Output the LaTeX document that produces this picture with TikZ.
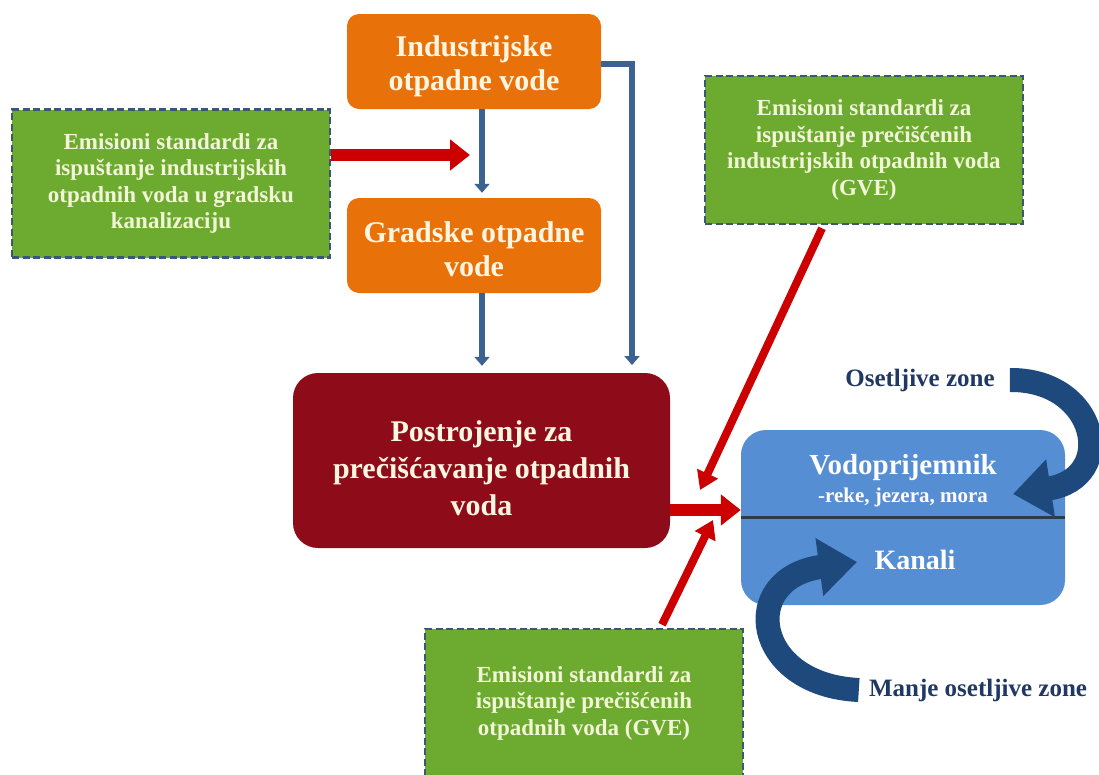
\documentclass[tikz,border=0pt]{standalone}
\usepackage{fontspec}
\setmainfont{Liberation Serif}
\usetikzlibrary{arrows.meta,calc}

\definecolor{boxorange}{RGB}{232,113,10}
\definecolor{boxgreen}{RGB}{108,170,48}
\definecolor{greenedge}{RGB}{58,88,118}
\definecolor{plantred}{RGB}{142,11,25}
\definecolor{waterblue}{RGB}{86,142,212}
\definecolor{flowred}{RGB}{204,0,0}
\definecolor{pipeblue}{RGB}{60,98,146}
\definecolor{zonenavy}{RGB}{30,73,125}
\definecolor{labelnavy}{RGB}{31,56,100}
\definecolor{cream}{RGB}{255,246,226}
\definecolor{paleyellow}{RGB}{242,246,214}
\definecolor{divider}{RGB}{45,60,75}

\tikzset{
  source/.style={fill=boxorange, rounded corners=12pt, minimum width=254pt,
    minimum height=95pt},
  sourcetext/.style={align=center, text=cream, inner sep=0pt,
    font=\bfseries\fontsize{30}{34}\selectfont},
  standard/.style={fill=boxgreen, draw=greenedge, line width=2.6pt,
    dash pattern=on 7pt off 3.5pt, minimum width=318pt, minimum height=148pt,
    align=center, text=paleyellow, font=\bfseries\fontsize{23}{26.5}\selectfont},
  plant/.style={fill=plantred, rounded corners=25pt, minimum width=377pt,
    minimum height=175pt},
  planttext/.style={align=center, text=cream, inner sep=0pt,
    font=\bfseries\fontsize{30}{37}\selectfont},
  receiver/.style={fill=waterblue, rounded corners=25pt, minimum width=324pt,
    minimum height=175pt},
  whitetext/.style={text=white, inner sep=0pt, align=center},
  zonelabel/.style={text=labelnavy, inner sep=0pt,
    font=\bfseries\fontsize{25}{28}\selectfont},
  pipe/.style={draw=pipeblue, line width=6pt,
    -{Triangle[width=15pt,length=9pt]}},
  bigflow/.style={draw=flowred, line width=12pt,
    -{Triangle[width=30pt,length=20pt]}},
  slimflow/.style={draw=flowred, line width=8pt,
    -{Triangle[width=22pt,length=18pt]}},
  zonearrow/.style={draw=zonenavy, line width=24pt,
    -{Triangle[width=56pt,length=38pt]}},
}

\begin{document}
\begin{tikzpicture}[x=1pt,y=-1pt]
\useasboundingbox (0,0) rectangle (1099,774);
\clip (0,0) rectangle (1099,774);

% wastewater sources
\node[source] (ind) at (474,61.5) {};
\node[sourcetext] (indtext) at (474,66) {Industrijske\\otpadne vode};
\node[source] (grad) at (474,245.5) {};
\node[sourcetext] (gradtext) at (474,249) {Gradske otpadne\\vode};

% treatment plant
\node[plant] (post) at (481.5,460.5) {};
\node[planttext] (posttext) at (481.5,468) {Postrojenje za\\prečišćavanje otpadnih\\voda};

% emission standards
\node[standard] (stdind) at (171,183.5)
  {Emisioni standardi za\\ispuštanje industrijskih\\otpadnih voda u gradsku\\kanalizaciju};
\node[standard] (stdgve) at (864,150)
  {Emisioni standardi za\\ispuštanje prečišćenih\\industrijskih otpadnih voda\\(GVE)};
\node[standard] (stdout) at (584,703)
  {Emisioni standardi za\\ispuštanje prečišćenih\\otpadnih voda  (GVE)};

% receiving water body
\node[receiver] (vod) at (903,517.5) {};
\draw[divider, line width=3.5pt] (vod.west) -- (vod.east);
\node[whitetext, font=\bfseries\fontsize{29}{33}\selectfont] (vodname) at (903,468) {Vodoprijemnik};
\node[whitetext, font=\bfseries\fontsize{21}{24}\selectfont] (vodsub) at (903,497) {-reke, jezera, mora};
\node[whitetext, font=\bfseries\fontsize{28}{32}\selectfont] (kanali) at (915,560) {Kanali};

% zone labels
\node[zonelabel] (oz) at (920,380) {Osetljive zone};
\node[zonelabel] (moz) at (978,690) {Manje osetljive zone};

% pipes
\coordinate (pipeA) at (482,110);
\coordinate (brk) at (632,372);
\draw[pipe, shorten >=5pt] (ind.south -| pipeA) -- (grad.north -| pipeA);
\draw[pipe, shorten >=7pt] (grad.south -| pipeA) -- (post.north -| pipeA);
\draw[pipe, shorten >=7pt] ([yshift=-2pt]ind.east) -| (brk);

% standards acting on the flows
\coordinate (tipA) at (470,155);
\coordinate (tipB) at (700,490);
\coordinate (tipC) at (713,520);
\draw[bigflow] (stdind.east |- tipA) -- (tipA);
\draw[bigflow] (post.east |- 0,510) -- (vod.west |- 0,510);
\draw[slimflow] ($(stdgve.south)+(-42,3)$) -- (tipB);
\draw[slimflow] ($(stdout.north)+(78,-3)$) -- (tipC);

% sensitivity of the receiving water
\coordinate (ozhead) at (1013,494);
\coordinate (mozhead) at (857,562);
\draw[zonearrow] ([xshift=15pt]oz.east) .. controls (1098,379) and (1118,478) .. (ozhead);
\draw[zonearrow] ([xshift=-10pt]moz.west) .. controls (752,685) and (738,578) .. (mozhead);
\end{tikzpicture}
\end{document}
